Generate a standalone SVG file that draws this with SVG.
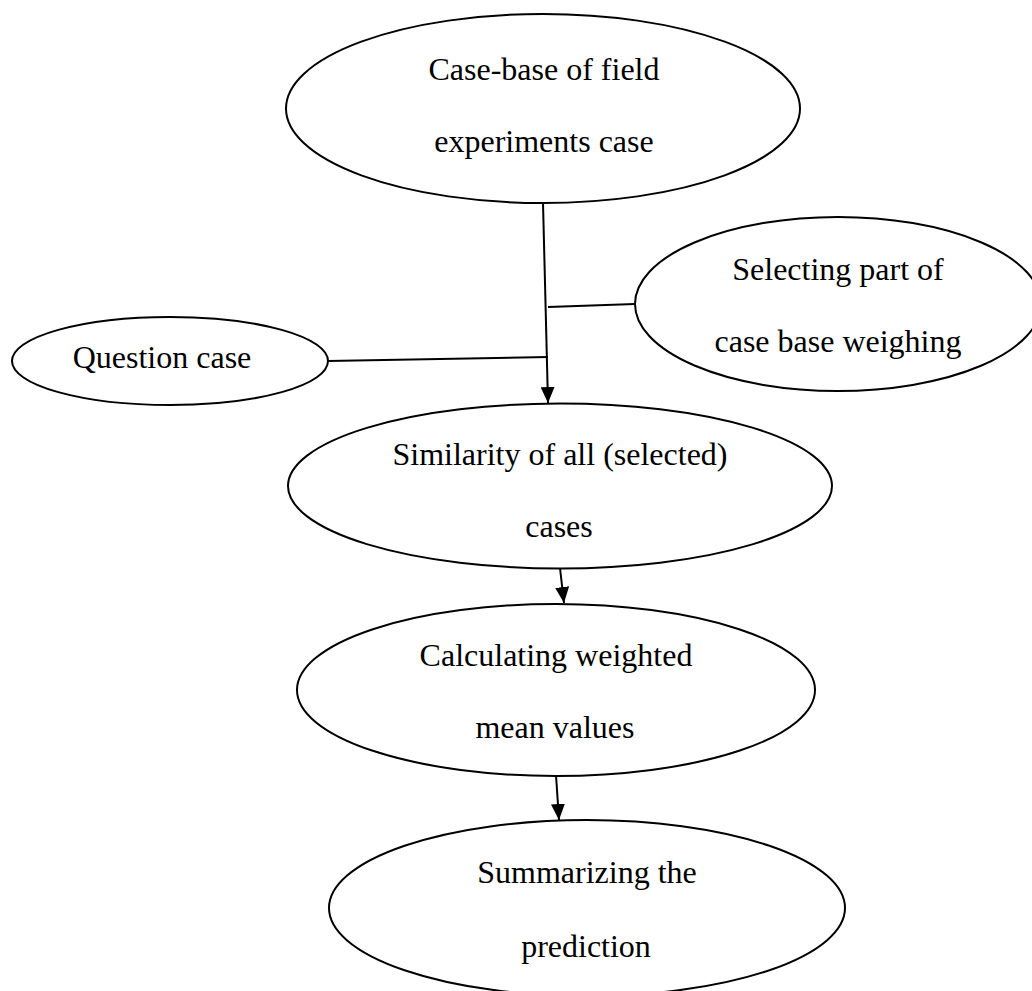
<svg xmlns="http://www.w3.org/2000/svg" width="1032" height="991" viewBox="0 0 1032 991">
<style>
.n{fill:#fff;stroke:#000;stroke-width:2}
.t{font-family:"Liberation Serif","Times New Roman",serif;font-size:32px;fill:#000;text-anchor:middle}
.c{stroke:#000;stroke-width:2;fill:none}
</style>
<defs>
<marker id="ar" viewBox="0 0 16 14" refX="16" refY="7" markerWidth="16" markerHeight="14" markerUnits="userSpaceOnUse" orient="auto">
<path d="M0,0 L16,7 L0,14 z" fill="#000"/>
</marker>
</defs>
<rect width="1032" height="991" fill="#fff"/>
<g id="n1"><ellipse class="n" cx="543" cy="108.5" rx="257" ry="94.5"/><text class="t" x="544" y="80">Case-base of field</text><text class="t" x="544" y="152">experiments case</text></g>
<g id="n2"><ellipse class="n" cx="838" cy="304" rx="203" ry="87"/><text class="t" x="838" y="280">Selecting part of</text><text class="t" x="838" y="352">case base weighing</text></g>
<g id="n3"><ellipse class="n" cx="170" cy="361" rx="158" ry="44"/><text class="t" x="162" y="368">Question case</text></g>
<g id="n4"><ellipse class="n" cx="560" cy="486" rx="272" ry="82.5"/><text class="t" x="560" y="465">Similarity of all (selected)</text><text class="t" x="559" y="537">cases</text></g>
<g id="n5"><ellipse class="n" cx="556" cy="690" rx="259" ry="86"/><text class="t" x="556" y="666">Calculating weighted</text><text class="t" x="555" y="738">mean values</text></g>
<g id="n6"><ellipse class="n" cx="587" cy="908" rx="258" ry="88"/><text class="t" x="587" y="883">Summarizing the</text><text class="t" x="586" y="957">prediction</text></g>
<g id="connectors">
<line class="c" x1="543" y1="203" x2="548" y2="403" marker-end="url(#ar)"/>
<line class="c" x1="548" y1="307" x2="635" y2="304"/>
<line class="c" x1="328" y1="361" x2="548" y2="357"/>
<line class="c" x1="560" y1="568" x2="564" y2="603" marker-end="url(#ar)"/>
<line class="c" x1="556" y1="775" x2="559" y2="820" marker-end="url(#ar)"/>
</g>
</svg>
